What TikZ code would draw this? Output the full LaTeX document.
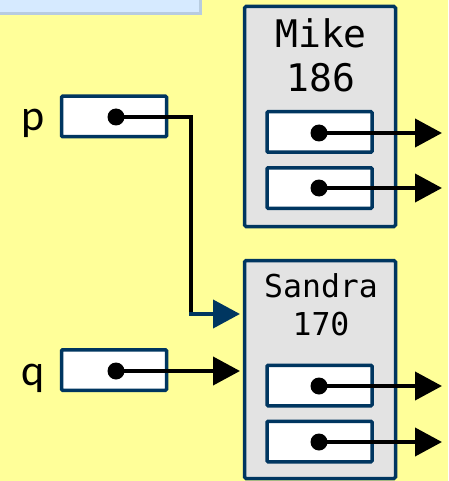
\documentclass[tikz,border=0pt]{standalone}
\usepackage{fontspec}
\setmainfont{Carlito}
\newfontfamily\codefont{DejaVu Sans Mono}
\usetikzlibrary{arrows.meta}
\definecolor{bgyellow}{RGB}{255,255,153}
\definecolor{darkblue}{RGB}{0,54,96}
\definecolor{boxgray}{RGB}{227,227,227}
\definecolor{lightblue}{RGB}{214,234,255}
\definecolor{lightblueborder}{RGB}{184,204,224}
\tikzset{
  objbox/.style={draw=darkblue, line width=3.5pt, fill=boxgray},
  refbox/.style={draw=darkblue, line width=3.5pt, fill=white, rounded corners=1pt, minimum width=105pt, minimum height=40.5pt, inner sep=0pt},
  dotc/.style={circle, fill=black, inner sep=0pt, minimum size=17pt},
  ptr/.style={line width=4pt, black, -{Triangle[length=27pt,width=28pt]}},
  ptrline/.style={line width=4pt, black, line join=miter},
  bigname/.style={font=\codefont\fontsize{38}{42}\selectfont, anchor=base, inner sep=0pt},
  smallname/.style={font=\codefont\fontsize{31.5}{34}\selectfont, anchor=base, inner sep=0pt},
  varlabel/.style={font=\fontsize{44}{48}\selectfont, anchor=base, inner sep=0pt}
}
\begin{document}
\begin{tikzpicture}[x=1pt,y=-1pt]
\useasboundingbox (0,0) rectangle (448,481);
\clip (0,0) rectangle (448,481);
\fill[bgyellow] (0,0) rectangle (448,481);
% top-left note box (cut off)
\draw[fill=lightblue, draw=lightblueborder, line width=3.5pt] (-10,-30) rectangle (200.5,13.5);

% Mike object
\draw[objbox, rounded corners=1.5pt] (244.5,6.5) rectangle (395.5,226.5);
\node[bigname] (mikename) at (321,48) {Mike};
\node[bigname] (mikeh) at (321,92) {186};
\node[refbox] (m1) at (319.5,132) {};
\node[refbox] (m2) at (319.5,188) {};

% Sandra object
\draw[objbox, rounded corners=1.5pt] (244.5,260.5) rectangle (395.5,478.5);
\node[smallname] (sname) at (321,297) {Sandra};
\node[smallname] (sh) at (321,335) {170};
\node[refbox] (s1) at (319.5,385.5) {};
\node[refbox] (s2) at (319.5,441.5) {};

% p and q
\node[refbox] (pbox) at (114,116.5) {};
\node[refbox] (qbox) at (114,370) {};
\node[varlabel] (plabel) at (33.5,131) {p};
\node[varlabel] (qlabel) at (33.5,385) {q};

% dots
\node[dotc] (pdot) at (116,117) {};
\node[dotc] (qdot) at (116,371) {};
\node[dotc] (m1dot) at (319,133) {};
\node[dotc] (m2dot) at (319,188) {};
\node[dotc] (s1dot) at (319,386) {};
\node[dotc] (s2dot) at (319,442) {};

% free ends
\coordinate (m1end) at (442,133);
\coordinate (m2end) at (442,188);
\coordinate (s1end) at (442,386);
\coordinate (s2end) at (442,442);
\coordinate (pcorner1) at (191,117);
\coordinate (pcorner2) at (191,314);
\coordinate (pend) at (240,314);
\coordinate (qend) at (240,371);

\draw[ptr] (m1dot.center) -- (m1end);
\draw[ptr] (m2dot.center) -- (m2end);
\draw[ptr] (s1dot.center) -- (s1end);
\draw[ptr] (s2dot.center) -- (s2end);
\draw[ptr] (qdot.center) -- (qend);

\draw[ptrline] (pdot.center) -- (pcorner1) -- ([yshift=-2pt]pcorner2);
\draw[line width=4pt, darkblue, -{Triangle[length=27pt,width=28pt]}] ([xshift=-2pt]pcorner2) -- (pend);
\end{tikzpicture}
\end{document}
